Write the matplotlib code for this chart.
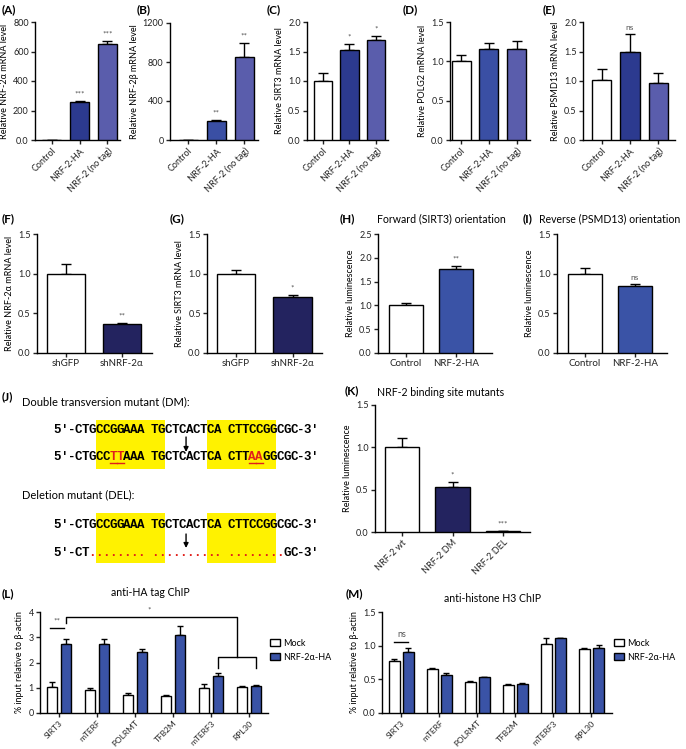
"""Panel figure: NRF-2 expression, luciferase and ChIP."""

import matplotlib
matplotlib.use("Agg")

import matplotlib.pyplot as plt
from matplotlib.patches import Rectangle, Patch
import numpy as np

W, H = 686, 749
plt.rcParams["font.family"] = ["Lato", "DejaVu Sans"]

# -- colours --
WHITE = "#ffffff"
HA_DARK = "#2c3a8f"
HA_MID = "#3a4fa4"
NOTAG = "#5a5dac"
NAVY = "#23235f"
BLUE = "#3a53a6"

# -- data --
over_labels = ["Control", "NRF-2-HA", "NRF-2 (no tag)"]
a_vals = [1, 255, 648]
a_err = [0, 10, 25]
b_vals = [2, 190, 850]
b_err = [0, 20, 145]
c_vals = [1.0, 1.53, 1.69]
c_err = [0.13, 0.10, 0.07]
d_vals = [1.0, 1.16, 1.16]
d_err = [0.08, 0.07, 0.10]
e_vals = [1.02, 1.50, 0.97]
e_err = [0.19, 0.29, 0.16]

kd_labels = ["shGFP", "shNRF-2α"]
f_vals = [1.0, 0.36]
f_err = [0.12, 0.02]
g_vals = [1.0, 0.70]
g_err = [0.04, 0.03]

luc_labels = ["Control", "NRF-2-HA"]
h_vals = [1.0, 1.77]
h_err = [0.04, 0.06]
i_vals = [1.0, 0.85]
i_err = [0.07, 0.02]

k_labels = ["NRF-2 wt", "NRF-2 DM", "NRF-2 DEL"]
k_vals = [1.0, 0.53, 0.01]
k_err = [0.11, 0.06, 0.0]

chip_genes = ["SIRT3", "mTERF", "POLRMT", "TFB2M", "mTERF3", "RPL30"]
l_mock = [1.02, 0.92, 0.70, 0.66, 1.00, 1.02]
l_mock_err = [0.19, 0.08, 0.08, 0.06, 0.15, 0.03]
l_nrf = [2.73, 2.73, 2.40, 3.10, 1.45, 1.05]
l_nrf_err = [0.22, 0.22, 0.15, 0.33, 0.15, 0.05]
m_mock = [0.77, 0.66, 0.46, 0.42, 1.02, 0.95]
m_mock_err = [0.03, 0.01, 0.01, 0.01, 0.09, 0.02]
m_nrf = [0.90, 0.56, 0.53, 0.43, 1.11, 0.97]
m_nrf_err = [0.07, 0.04, 0.01, 0.01, 0.01, 0.04]

seq_wt = "5′-CTGCCGGAAA TGCTCACTCA CTTCCGGCGC-3′"
seq_dm = "5′-CTGCCTTAAA TGCTCACTCA CTTAAGGCGC-3′"
seq_del = "5′-CT........ .......... ........GC-3′"
dm_red = [8, 9, 28, 29]
site_spans = [(6, 16), (22, 32)]

fig = plt.figure(figsize=(W / 100, H / 100), dpi=100)


def px_axes(left, top, right, bottom):
    return fig.add_axes([left / W, 1 - bottom / H, (right - left) / W, (bottom - top) / H])


def style(ax):
    for s in ("top", "right"):
        ax.spines[s].set_visible(False)
    for s in ("left", "bottom"):
        ax.spines[s].set_linewidth(1.0)
    ax.tick_params(width=1.0, length=3, labelsize=6.5, pad=1.5, colors="#222222")


def stars(ax, x, top, txt, size=6):
    ax.annotate(txt, (x, top), xytext=(0, 2.5), textcoords="offset points",
                ha="center", va="bottom", fontsize=size, color="#555555")


def bar_panel(box, vals, errs, colors, labels, ylim, yticks, yticklabels, ylabel,
              xlim, sig=None, rot=True, width=0.68):
    ax = px_axes(*box)
    style(ax)
    x = np.arange(len(vals))
    ax.bar(x, vals, width=width, color=colors, edgecolor="black", linewidth=1.0, zorder=3)
    ax.errorbar(x, vals, yerr=[np.zeros(len(vals)), errs], fmt="none", ecolor="black",
                elinewidth=1.0, capsize=3.5, capthick=1.0, zorder=2)
    ax.set_xlim(*xlim)
    ax.set_ylim(*ylim)
    ax.set_yticks(yticks)
    ax.set_yticklabels(yticklabels)
    ax.set_xticks(x)
    if rot:
        ax.set_xticklabels(labels, rotation=45, ha="right", rotation_mode="anchor", fontsize=6.5)
    else:
        ax.set_xticklabels(labels, fontsize=7)
    ax.set_ylabel(ylabel, fontsize=6.5, labelpad=3)
    if sig:
        for i, t in sig.items():
            stars(ax, x[i], vals[i] + errs[i], t)
    return ax


def panel_label(x, y, txt):
    fig.text(x / W, 1 - y / H, txt, fontsize=8.5, fontweight="bold", va="center", ha="left")


def title(x, y, txt, ha="left", size=7.3):
    fig.text(x / W, 1 - y / H, txt, fontsize=size, va="center", ha=ha)


three = [WHITE, HA_DARK, NOTAG]
three_b = [WHITE, HA_MID, NOTAG]
half = [0.0, 0.5, 1.0, 1.5]
half_lbl = ["0.0", "0.5", "1.0", "1.5"]
two = [0.0, 0.5, 1.0, 1.5, 2.0]
two_lbl = ["0.0", "0.5", "1.0", "1.5", "2.0"]

# -- row 1 --
bar_panel((35, 22, 120, 140), a_vals, a_err, three, over_labels, (0, 800),
          [0, 200, 400, 600, 800], ["0.0", "200", "400", "600", "800"],
          "Relative NRF-2α mRNA level", (-0.6, 2.45), {1: "***", 2: "***"})
bar_panel((170, 23, 258, 140), b_vals, b_err, three_b, over_labels, (0, 1200),
          [0, 400, 800, 1200], ["0", "400", "800", "1200"],
          "Relative NRF-2β mRNA level", (-0.65, 2.5), {1: "**", 2: "**"})
bar_panel((307, 22, 388, 140), c_vals, c_err, three, over_labels, (0, 2.0),
          two, two_lbl, "Relative SIRT3 mRNA level", (-0.6, 2.45), {1: "*", 2: "*"})
bar_panel((450, 22, 530, 140), d_vals, d_err, three_b, over_labels, (0, 1.5),
          half, half_lbl, "Relative POLG2 mRNA level", (-0.4, 2.48))
bar_panel((583, 22, 675, 140), e_vals, e_err, three, over_labels, (0, 2.0),
          two, two_lbl, "Relative PSMD13 mRNA level", (-0.67, 2.6), {1: "ns"})
panel_label(2, 10, "(A)")
panel_label(137, 10, "(B)")
panel_label(267, 10, "(C)")
panel_label(403, 10, "(D)")
panel_label(543, 10, "(E)")

# -- row 2 --
bar_panel((37, 234, 152, 353), f_vals, f_err, [WHITE, NAVY], kd_labels, (0, 1.5),
          half, half_lbl, "Relative NRF-2α mRNA level", (-0.52, 1.54), {1: "**"}, rot=False)
bar_panel((207, 234, 322, 353), g_vals, g_err, [WHITE, NAVY], kd_labels, (0, 1.5),
          half, half_lbl, "Relative SIRT3 mRNA level", (-0.51, 1.52), {1: "*"}, rot=False)
bar_panel((378, 234, 492, 353), h_vals, h_err, [WHITE, BLUE], luc_labels, (0, 2.5),
          [0, 0.5, 1.0, 1.5, 2.0, 2.5], ["0.0", "0.5", "1.0", "1.5", "2.0", "2.5"],
          "Relative luminescence", (-0.56, 1.72), {1: "**"}, rot=False)
bar_panel((557, 234, 667, 353), i_vals, i_err, [WHITE, BLUE], luc_labels, (0, 1.5),
          half, half_lbl, "Relative luminescence", (-0.56, 1.64), {1: "ns"}, rot=False)
panel_label(2, 219, "(F)")
panel_label(170, 219, "(G)")
panel_label(340, 219, "(H)")
panel_label(523, 219, "(I)")
title(377, 219, "Forward (SIRT3) orientation", size=7.6)
title(539, 219, "Reverse (PSMD13) orientation", size=7.6)

# -- J: sequence diagram --
axj = px_axes(0, 385, 345, 575)
axj.set_xlim(0, 345)
axj.set_ylim(575, 385)
axj.axis("off")
cw = 6.95
x0 = 54


def cx(i):
    return x0 + cw * (i + 0.5)


def seq_line(y, seq, red=(), dots_red=False):
    for i, ch in enumerate(seq):
        if ch == " ":
            continue
        col = "black"
        if i in red or (dots_red and ch == "."):
            col = "#e0201b"
        axj.text(cx(i), y, ch, ha="center", va="center", fontsize=9,
                 family="Liberation Mono", fontweight="bold", color=col)
        if i in red:
            axj.plot([cx(i) - cw / 2, cx(i) + cw / 2], [y + 5.5, y + 5.5],
                     color="#e0201b", lw=1.0)


for (y_top, y_bot) in [(420, 469), (513, 563)]:
    for s, e in site_spans:
        axj.add_patch(Rectangle((x0 + cw * s, y_top), cw * (e - s), y_bot - y_top,
                                facecolor="#fff200", edgecolor="none", zorder=0))

seq_line(430, seq_wt)
seq_line(457, seq_dm, red=dm_red)
seq_line(525, seq_wt)
seq_line(553, seq_del, dots_red=True)
for ya, yb in [(437, 452), (534, 548)]:
    axj.annotate("", xy=(x0 + cw * 19, yb), xytext=(x0 + cw * 19, ya),
                 arrowprops=dict(arrowstyle="-|>", color="black", lw=1.0,
                                 mutation_scale=7, shrinkA=0, shrinkB=0))
axj.text(22, 402, "Double transversion mutant (DM):", fontsize=8, va="center")
axj.text(22, 495, "Deletion mutant (DEL):", fontsize=8, va="center")
panel_label(2, 397, "(J)")

# -- K --
bar_panel((375, 405, 530, 532), k_vals, k_err, [WHITE, NAVY, WHITE], k_labels, (0, 1.5),
          half, half_lbl, "Relative luminescence", (-0.53, 2.53), {1: "*", 2: "***"})
panel_label(345, 391, "(K)")
title(377, 393, "NRF-2 binding site mutants", size=7.6)


# -- L / M: ChIP --
def chip_panel(box, mock, mock_err, nrf, nrf_err, ylim, yticks, yticklabels, xlim):
    ax = px_axes(*box)
    style(ax)
    x = np.arange(len(chip_genes))
    off, bw = 0.185, 0.28
    ax.bar(x - off, mock, width=bw, color=WHITE, edgecolor="black", linewidth=1.0, zorder=3)
    ax.bar(x + off, nrf, width=bw, color=BLUE, edgecolor="black", linewidth=1.0, zorder=3)
    ax.errorbar(x - off, mock, yerr=[np.zeros(len(x)), mock_err], fmt="none", ecolor="black",
                elinewidth=1.0, capsize=2.5, capthick=1.0, zorder=2)
    ax.errorbar(x + off, nrf, yerr=[np.zeros(len(x)), nrf_err], fmt="none", ecolor="black",
                elinewidth=1.0, capsize=2.5, capthick=1.0, zorder=2)
    ax.set_xlim(*xlim)
    ax.set_ylim(*ylim)
    ax.set_yticks(yticks)
    ax.set_yticklabels(yticklabels)
    ax.set_xticks(x)
    ax.set_xticklabels(chip_genes, rotation=45, ha="right", rotation_mode="anchor", fontsize=6)
    ax.set_ylabel("% input relative to β-actin", fontsize=6.5, labelpad=3)
    return ax, x, off


axl, xl, off = chip_panel((40, 612, 268, 713), l_mock, l_mock_err, l_nrf, l_nrf_err,
                          (0, 4), [0, 1, 2, 3, 4], ["0", "1", "2", "3", "4"], (-0.5, 5.5))
kw = dict(color="black", lw=1.0, clip_on=False)
# SIRT3 mock vs NRF
axl.plot([xl[0] - off - 0.05, xl[0] + off - 0.05], [3.37, 3.37], **kw)
stars(axl, xl[0] - 0.05, 3.37, "**")
# SIRT3 vs mTERF3/RPL30
mid = (xl[4] + xl[5]) / 2 + off
axl.plot([xl[0] + off, xl[0] + off, mid, mid], [3.56, 3.8, 3.8, 2.22], **kw)
axl.plot([xl[4] + off, xl[4] + off, xl[5] + off, xl[5] + off], [1.8, 2.22, 2.22, 1.8], **kw)
stars(axl, 2.37, 3.8, "*")
panel_label(2, 594, "(L)")
title(150, 593, "anti-HA tag ChIP", ha="center", size=7.6)

axm, xm, off = chip_panel((382, 612, 612, 713), m_mock, m_mock_err, m_nrf, m_nrf_err,
                          (0, 1.5), half, half_lbl, (-0.51, 5.54))
axm.plot([xm[0] - off, xm[0] + off], [1.05, 1.05], **kw)
stars(axm, xm[0], 1.05, "ns", size=6.5)
panel_label(346, 594, "(M)")
title(493, 598, "anti-histone H3 ChIP", ha="center", size=7.6)

handles = [Patch(facecolor=WHITE, edgecolor="black", linewidth=1.0),
           Patch(facecolor=BLUE, edgecolor="black", linewidth=1.0)]
for lx in (270, 614):
    fig.legend(handles, ["Mock", "NRF-2α-HA"], loc="upper left",
               bbox_to_anchor=(lx / W, 1 - 639 / H), frameon=False, fontsize=6.5,
               handlelength=1.1, handleheight=0.8, handletextpad=0.35, labelspacing=0.5,
               borderpad=0.0, borderaxespad=0.0)

fig.savefig("out.png", dpi=100)
